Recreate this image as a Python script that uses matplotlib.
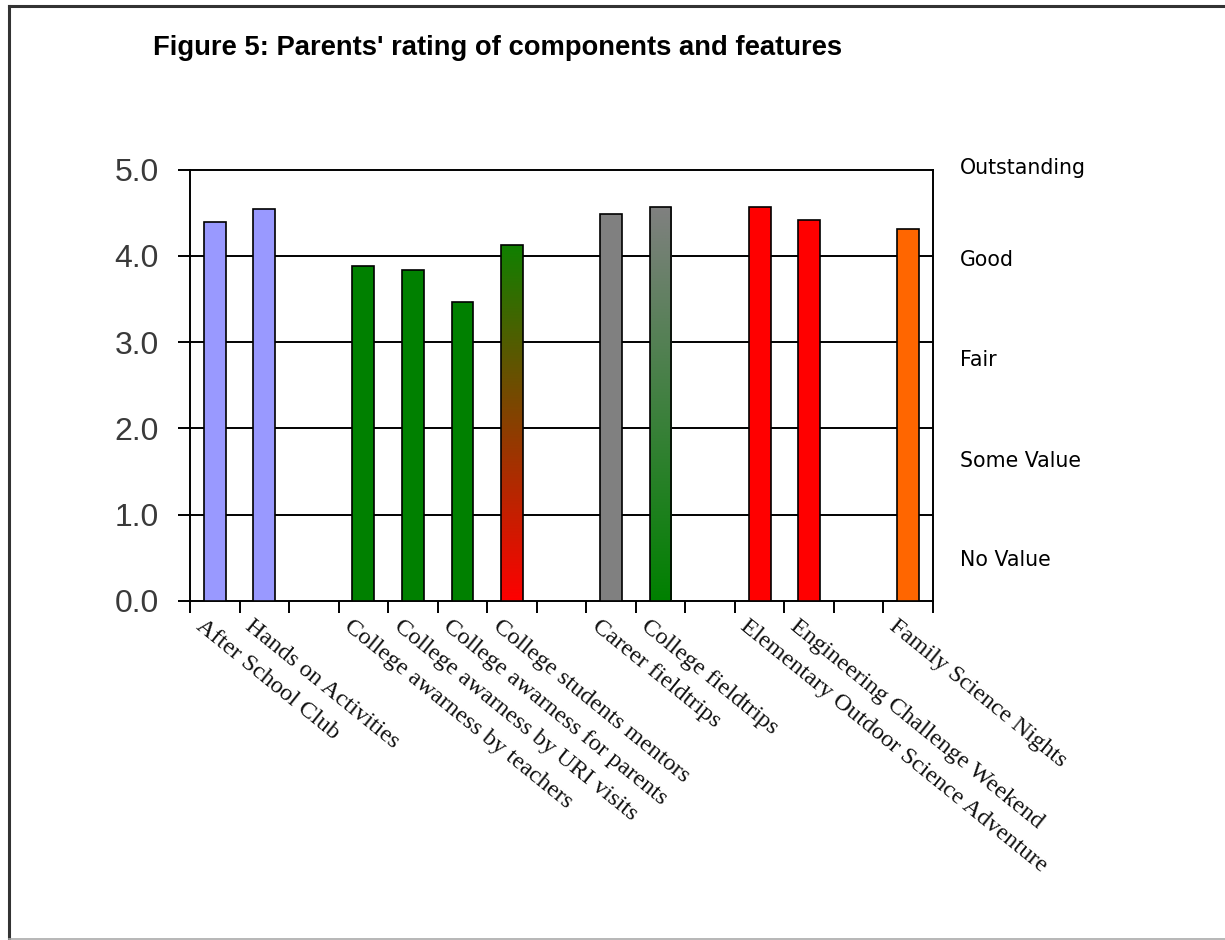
import numpy as np
import matplotlib
matplotlib.use("Agg")
import matplotlib.pyplot as plt
from matplotlib.colors import LinearSegmentedColormap
from matplotlib.transforms import ScaledTranslation
from matplotlib.lines import Line2D

# Component names (empty strings are spacer slots between groups)
categories = [
    "After School Club", "Hands on Activities", "",
    "College awarness by teachers", "College awarness by URI visits",
    "College awarness for parents", "College students mentors", "",
    "Career fieldtrips", "College fieldtrips", "",
    "Elementary Outdoor Science Adventure", "Engineering Challenge Weekend", "",
    "Family Science Nights",
]
ratings = [4.39, 4.54, None, 3.88, 3.83, 3.47, 4.13, None,
           4.49, 4.56, None, 4.56, 4.41, None, 4.31]
# Solid fill, or (top colour, bottom colour) for a vertical gradient
fills = ["#9999FF", "#9999FF", None, "#008000", "#008000", "#008000",
         ("#108000", "#FF0000"), None, "#808080", ("#808080", "#008000"),
         None, "#FF0000", "#FF0000", None, "#FF6600"]

y_ticks = [0, 1, 2, 3, 4, 5]
scale_labels = ["Outstanding", "Good", "Fair", "Some Value", "No Value"]
scale_label_y = [168, 260, 360, 461, 560]  # pixel rows from top

W, H = 1225, 940
fig = plt.figure(figsize=(W / 100, H / 100), dpi=100)
fig.patch.set_facecolor("white")

ax = fig.add_axes([190 / W, 1 - 601 / H, 743 / W, (601 - 169.5) / H])
ax.set_facecolor("white")

x = np.arange(len(categories))
bar_w = 0.44
lw = 1.4

for yv in y_ticks[1:-1]:
    ax.axhline(yv, color="black", lw=lw, zorder=1)

for xi, val, fc in zip(x, ratings, fills):
    if val is None:
        continue
    if isinstance(fc, tuple):
        bars = ax.bar(xi, val, width=bar_w, color="none", edgecolor="black",
                      linewidth=1.2, zorder=4)
        patch = bars.patches[0]
        cmap = LinearSegmentedColormap.from_list("g", [fc[1], fc[0]])
        grad = np.linspace(0, 1, 256).reshape(-1, 1)
        im = ax.imshow(grad, extent=[xi - bar_w / 2, xi + bar_w / 2, 0, val],
                       origin="lower", aspect="auto", cmap=cmap, zorder=3)
        im.set_clip_path(patch)
    else:
        ax.bar(xi, val, width=bar_w, color=fc, edgecolor="black",
               linewidth=1.2, zorder=3)

ax.set_xlim(-0.5, len(categories) - 0.5)
ax.set_ylim(0, 5)

for s in ax.spines.values():
    s.set_color("black")
    s.set_linewidth(lw)

ax.set_yticks(y_ticks)
ax.set_yticklabels([f"{v:.1f}" for v in y_ticks], fontsize=23,
                   family="Liberation Sans", color="#3a3a3a")
ax.tick_params(axis="y", direction="out", length=8.6, width=lw, pad=14)

ax.set_xticks(np.arange(-0.5, len(categories), 1.0))
ax.set_xticklabels([])
ax.tick_params(axis="x", direction="out", length=8.6, width=lw)

label_offset = ScaledTranslation(-10 / 100, -15 / 100, fig.dpi_scale_trans)
for xi, name in zip(x, categories):
    if not name:
        continue
    ax.text(xi, 0, name, transform=ax.get_xaxis_transform() + label_offset,
            rotation=-39, rotation_mode="anchor", ha="left", va="top",
            fontsize=17.5, family="Liberation Serif", color="#111111")

for txt, py in zip(scale_labels, scale_label_y):
    fig.text(960 / W, 1 - py / H, txt, ha="left", va="center",
             fontsize=14.8, family="DejaVu Sans", color="black")

fig.text(153 / W, 1 - 48 / H, "Figure 5: Parents' rating of components and features",
         ha="left", va="center", fontsize=19.7, fontweight="bold",
         family="Liberation Sans", color="black")

# Frame around the chart area
fig.add_artist(Line2D([9 / W, 9 / W], [0, 1 - 6 / H], transform=fig.transFigure,
                      color="#333333", lw=2.2))
fig.add_artist(Line2D([9 / W, 1], [1 - 6 / H, 1 - 6 / H], transform=fig.transFigure,
                      color="#333333", lw=2.2))
fig.add_artist(Line2D([9 / W, 1], [1 - 938.5 / H, 1 - 938.5 / H],
                      transform=fig.transFigure, color="#aaaaaa", lw=1.2))

fig.savefig("out.png", dpi=100)
